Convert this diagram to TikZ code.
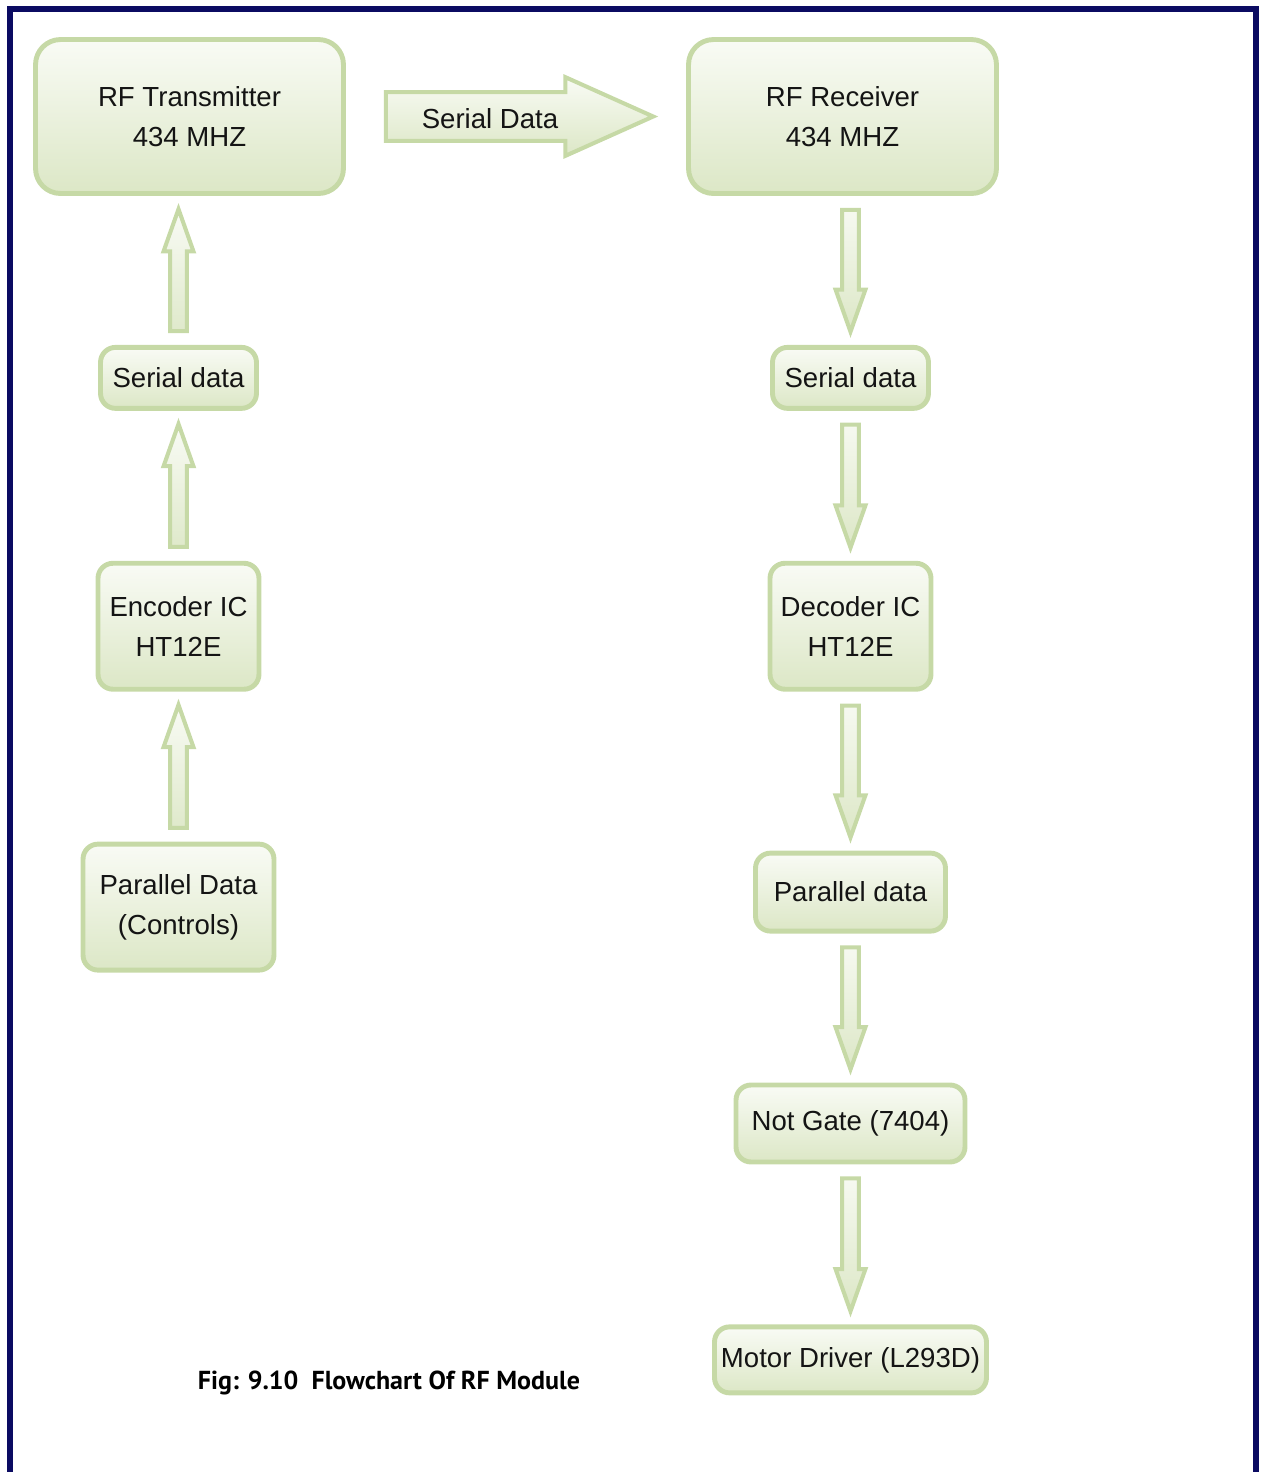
\documentclass[tikz,border=0pt]{standalone}
\usepackage{fontspec}
\setmainfont{Liberation Sans}
\newfontfamily\capfont{PT Sans}
\usepackage{tikz}
\usetikzlibrary{positioning,calc}
\definecolor{boxline}{HTML}{C6D9A6}
\definecolor{boxtop}{HTML}{F9FBF5}
\definecolor{boxbot}{HTML}{DCE7C6}
\definecolor{framecol}{HTML}{0B0B62}
\definecolor{txtcol}{HTML}{141414}
\tikzset{
	box/.style={draw=boxline,line width=2.8pt,rounded corners=0.3cm,top color=boxtop,bottom color=boxbot,align=center,text=txtcol,font=\fontsize{15.7}{22.7}\selectfont,inner sep=2pt},
	bigbox/.style={box,rounded corners=0.5cm,minimum width=6.16cm,minimum height=3.08cm},
	% shaft half width, head half width, head length, gap at start, gap at tip
	blockarr/.style n args={5}{draw=boxline,line width=2.3pt,top color=boxtop,bottom color=boxbot,
		to path={($(\tikztostart)!#4!(\tikztotarget)!#1!90:(\tikztotarget)$)
			-- ($(\tikztotarget)!{#5+#3}!(\tikztostart)!#1!-90:(\tikztostart)$)
			-- ($(\tikztotarget)!{#5+#3}!(\tikztostart)!#2!-90:(\tikztostart)$)
			-- ($(\tikztotarget)!#5!(\tikztostart)$)
			-- ($(\tikztotarget)!{#5+#3}!(\tikztostart)!#2!90:(\tikztostart)$)
			-- ($(\tikztotarget)!{#5+#3}!(\tikztostart)!#1!90:(\tikztostart)$)
			-- ($(\tikztostart)!#4!(\tikztotarget)!#1!-90:(\tikztotarget)$)
			-- cycle}},
	vup/.style={blockarr={4.8pt}{8.5pt}{24pt}{7.9pt}{7.5pt}}
}

\begin{document}
\begin{tikzpicture}[x=0.02cm,y=-0.02cm]
	\useasboundingbox (0,0) rectangle (1261,1472);
	\draw[framecol,line width=3.3pt] (10,1472)--(10,9)--(1256,9)--(1256,1472);
	
	% transmitter side
	\node[bigbox] (tx) at (189.5,116.5) {RF Transmitter\\434 MHZ};
	\node[box,minimum width=3.12cm,minimum height=1.22cm,below=2.98cm of tx,xshift=-0.22cm] (sdl) {Serial data};
	\node[box,minimum width=3.22cm,minimum height=2.52cm,below=3cm of sdl] (enc) {Encoder IC\\HT12E};
	\node[box,minimum width=3.82cm,minimum height=2.52cm,below=3cm of enc] (par) {Parallel Data\\(Controls)};
	
	% receiver side
	\node[bigbox] (rx) at (842.5,116.5) {RF Receiver\\434 MHZ};
	\node[box,minimum width=3.12cm,minimum height=1.22cm,below=2.98cm of rx,xshift=0.16cm] (sdr) {Serial data};
	\node[box,minimum width=3.22cm,minimum height=2.52cm,below=3cm of sdr] (dec) {Decoder IC\\HT12E};
	\node[box,minimum width=3.8cm,minimum height=1.56cm,below=3.18cm of dec] (pard) {Parallel data};
	\node[box,minimum width=4.58cm,minimum height=1.54cm,below=2.98cm of pard] (notg) {Not Gate (7404)};
	\node[box,minimum width=5.44cm,minimum height=1.32cm,below=3.2cm of notg] (mot) {Motor Driver (L293D)};
	
	% arrows
	\draw[blockarr={13.9pt}{22.4pt}{50pt}{22.7pt}{18.7pt}] (tx.east) to (rx.west);
	\node[text=txtcol,font=\fontsize{15.7}{22.7}\selectfont] (sdtxt) at (490,119) {Serial Data};
	
	\draw[vup] (sdl.north) to (sdl.north |- tx.south);
	\foreach \a/\b in {enc/sdl,par/enc}{%
		\draw[vup] (\a.north) to (\b.south);
	}
	\draw[vup] (rx.south -| sdr.north) to (sdr.north);
	\foreach \a/\b in {sdr/dec,dec/pard,pard/notg,notg/mot}{%
		\draw[vup] (\a.south) to (\b.north);
	}
	
	\node[font=\capfont\bfseries\fontsize{14.8}{18}\selectfont,text=black] (cap) at (389,1383) {Fig: 9.10\ \ Flowchart Of RF Module};
\end{tikzpicture}
\end{document}
